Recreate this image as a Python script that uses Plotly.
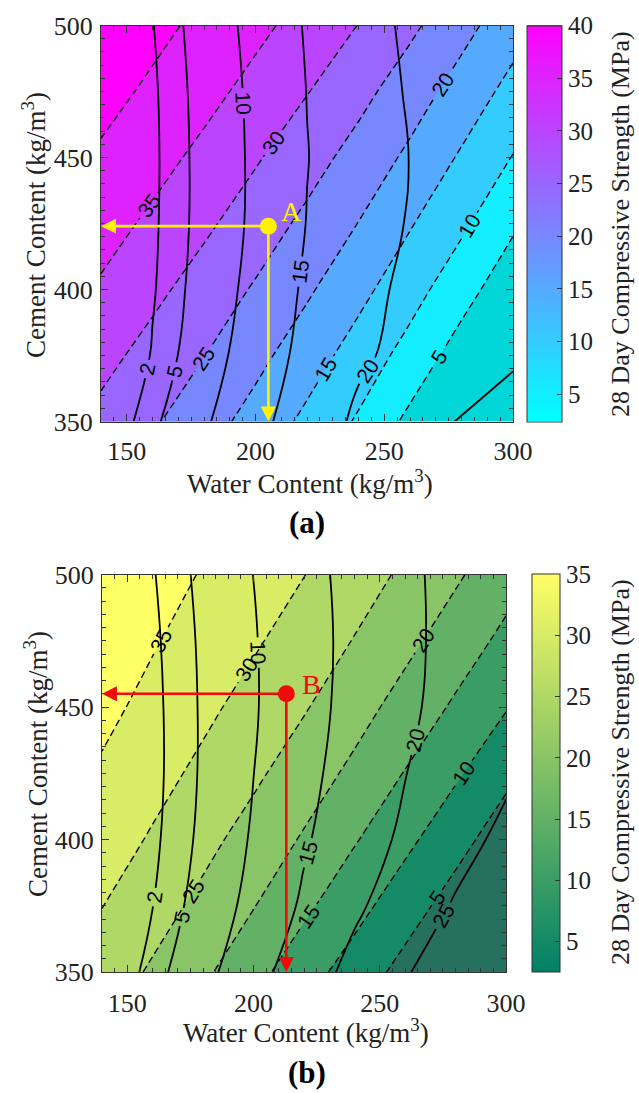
import plotly.graph_objects as go

# ---------------- data ----------------
water_content = [140, 160, 180, 200, 220, 240, 260, 280, 300]      # kg/m3 (x grid)
cement_content = [350, 375, 400, 425, 450, 475, 500]               # kg/m3 (y grid)

# panel (a): 28-day strength (filled, dashed contours)
strength_a = [
    [28.7, 25.6, 22.1, 18.2, 13.9, 9.4, 3.8, 0.5, -3.0],
    [31.5, 28.3, 25.1, 21.4, 17.3, 12.9, 8.2, 2.7, -1.0],
    [34.4, 31.2, 27.9, 24.5, 20.7, 16.4, 11.9, 7.0, 1.7],
    [36.9, 34.1, 30.9, 27.5, 23.9, 19.9, 15.4, 10.9, 5.8],
    [39.3, 36.7, 33.8, 30.5, 27.0, 23.2, 19.0, 14.4, 9.8],
    [41.7, 39.1, 36.5, 33.5, 30.2, 26.5, 22.4, 18.0, 13.4],
    [44.0, 41.4, 38.8, 36.2, 33.2, 29.9, 26.0, 21.6, 17.1],
]
# panel (a): secondary quantity (solid contours)
solid_a = [
    [-1.7, 4.16, 9.41, 13.69, 17.52, 20.75, 23.05, 25.3, 27.4],
    [-3.6, 2.3, 7.81, 12.49, 16.31, 19.38, 21.21, 22.73, 24.24],
    [-4.06, 1.66, 6.92, 11.60, 15.71, 18.48, 21.0, 23.05, 24.5],
    [-4.17, 1.39, 6.47, 10.98, 15.11, 17.74, 20.31, 22.4, 24.28],
    [-4.1, 1.30, 6.46, 10.91, 14.90, 17.46, 20.07, 22.17, 24.06],
    [-4.1, 1.44, 6.66, 11.1, 15.07, 17.77, 20.39, 22.47, 24.35],
    [-3.86, 1.86, 7.11, 11.54, 15.38, 18.16, 20.76, 22.82, 24.68],
]
# panel (b)
strength_b = [
    [27.6, 24.4, 20.9, 16.6, 12.1, 7.8, 3.4, 0.5, -2.0],
    [30.1, 27.0, 23.8, 20.2, 16.0, 11.7, 7.3, 2.9, -1.5],
    [32.4, 29.5, 26.4, 23.1, 19.5, 15.4, 11.2, 6.8, 2.3],
    [34.4, 31.7, 28.9, 25.9, 22.5, 18.9, 14.8, 10.7, 6.2],
    [36.2, 33.7, 31.1, 28.3, 25.4, 21.9, 18.2, 14.3, 10.3],
    [37.9, 35.4, 33.0, 30.6, 27.8, 24.8, 21.3, 17.6, 13.8],
    [39.3, 37.0, 34.7, 32.4, 30.1, 27.2, 24.2, 20.7, 17.0],
]
solid_b = [
    [-2.0, 3.41, 8.54, 13.32, 17.62, 21.37, 24.64, 27.5, 30.0],
    [-3.1, 1.93, 6.84, 11.54, 15.65, 19.24, 22.39, 25.4, 28.0],
    [-3.52, 1.26, 5.9, 10.54, 14.52, 17.78, 20.78, 23.41, 26.05],
    [-3.57, 0.98, 5.51, 9.96, 13.79, 16.99, 19.9, 22.1, 24.3],
    [-3.4, 1.04, 5.48, 9.61, 13.31, 16.47, 19.18, 21.65, 24.0],
    [-3.16, 1.29, 5.65, 9.7, 13.21, 16.3, 18.97, 21.45, 23.8],
    [-2.71, 1.73, 6.06, 10.05, 13.46, 16.44, 19.05, 21.49, 23.85],
]

point_A = (205, 424)
point_B = (213, 455)
cbar_ticks_a = [5, 10, 15, 20, 25, 30, 35, 40]
cbar_ticks_b = [5, 10, 15, 20, 25, 30, 35]
x_ticks = [150, 200, 250, 300]
y_ticks = [350, 400, 450, 500]

# ---------------- styles ----------------
SERIF = "Liberation Serif, Times New Roman, serif"
SANS = "Liberation Sans, Arial, sans-serif"
INK = "#222222"
H = 1093.0
W = 639.0

cool = [[0, "rgb(0,255,255)"], [1, "rgb(255,0,255)"]]
summer = [[0, "rgb(0,128,102)"], [1, "rgb(255,255,102)"]]

band_cols_a = ["rgb(0,214,216)", "rgb(18,237,255)", "rgb(52,203,255)", "rgb(85,170,255)",
               "rgb(119,136,255)", "rgb(153,102,255)", "rgb(187,68,255)", "rgb(221,34,255)",
               "rgb(255,0,255)"]
band_cols_b = ["rgb(38,112,96)", "rgb(20,138,102)", "rgb(59,157,102)", "rgb(98,177,102)",
               "rgb(137,197,102)", "rgb(176,216,102)", "rgb(216,236,102)", "rgb(255,255,102)"]


def steps(cols):
    n = len(cols) - 1
    return [[i / n, c] for i, c in enumerate(cols)]


label_font = dict(family=SANS, size=21, color="black")

fig = go.Figure()


def add_panel(xa, ya, zs, zl, cmap, zmin, zmax, bands, end_level, cb):
    fig.add_trace(go.Heatmap(x=water_content, y=cement_content, z=zs, colorscale=cmap,
                             zmin=zmin, zmax=zmax, showscale=True, colorbar=cb,
                             xaxis=xa, yaxis=ya, hoverinfo="skip"))
    fig.add_trace(go.Contour(x=water_content, y=cement_content, z=zs, autocontour=False,
                             contours=dict(start=5, end=end_level, size=5, coloring="fill",
                                           showlabels=True, labelfont=label_font),
                             colorscale=steps(bands), showscale=False,
                             line=dict(color="black", width=1.4, dash="7px,4px", smoothing=0.6),
                             xaxis=xa, yaxis=ya, hoverinfo="skip"))
    for lo, hi, sz in [(5, 25, 5), (2, 2, 1)]:
        fig.add_trace(go.Contour(x=water_content, y=cement_content, z=zl, autocontour=False,
                                 contours=dict(start=lo, end=hi, size=sz, coloring="none",
                                               showlabels=True, labelfont=label_font),
                                 showscale=False,
                                 line=dict(color="black", width=1.8, smoothing=1.3),
                                 xaxis=xa, yaxis=ya, hoverinfo="skip"))


def colorbar(x, top, bottom, thick, ticks):
    return dict(x=x / W, xanchor="left", y=1 - (top + bottom) / 2 / H, yanchor="middle",
                len=(bottom - top) / H, lenmode="fraction",
                thickness=thick, thicknessmode="pixels", xpad=0, ypad=0,
                outlinewidth=1, outlinecolor="#333333",
                ticks="inside", ticklen=5, tickcolor="#333333", tickvals=ticks,
                tickfont=dict(family=SERIF, size=25, color=INK))


add_panel("x", "y", strength_a, solid_a, cool, 2.4, 40, band_cols_a, 40,
          colorbar(527, 25.5, 421.5, 35, cbar_ticks_a))
add_panel("x2", "y2", strength_b, solid_b, summer, 2.5, 35, band_cols_b, 35,
          colorbar(532, 574.5, 972, 28, cbar_ticks_b))

yel = "rgb(255,242,0)"
red = "rgb(240,10,10)"

# points
fig.add_trace(go.Scatter(x=[point_A[0]], y=[point_A[1]], mode="markers",
                         marker=dict(size=17, color=yel),
                         xaxis="x", yaxis="y", showlegend=False, hoverinfo="skip"))
fig.add_trace(go.Scatter(x=[point_B[0]], y=[point_B[1]], mode="markers",
                         marker=dict(size=17, color=red),
                         xaxis="x2", yaxis="y2", showlegend=False, hoverinfo="skip"))


def axis_style(domain, anchor, rng, ticks, standoff):
    return dict(domain=domain, anchor=anchor, range=rng, tickvals=ticks,
                showline=True, linecolor="#333333", linewidth=1.2, mirror="allticks",
                ticks="inside", ticklen=7, tickwidth=1, tickcolor="#333333",
                minor=dict(dtick=5, ticks="inside", ticklen=4, tickcolor="#333333", tickwidth=1),
                showgrid=False, zeroline=False, automargin=False, ticklabelstandoff=standoff,
                tickfont=dict(family=SERIF, size=26, color=INK))


xr = [water_content[0], water_content[-1]]
yr = [cement_content[0], cement_content[-1]]
fig.update_layout(
    width=639, height=1093, margin=dict(l=0, r=0, t=0, b=0),
    paper_bgcolor="white", plot_bgcolor="white", showlegend=False, hovermode=False,
    xaxis=axis_style([101 / W, 513 / W], "y", xr, x_ticks, 6),
    yaxis=axis_style([1 - 421.5 / H, 1 - 25.5 / H], "x", yr, y_ticks, 2),
    xaxis2=axis_style([102 / W, 506 / W], "y2", xr, x_ticks, 8),
    yaxis2=axis_style([1 - 972 / H, 1 - 574.5 / H], "x2", yr, y_ticks, 2),
)

anns = []


def arrow(pt, tip, color, xr_, yr_):
    return dict(x=tip[0], y=tip[1], ax=pt[0], ay=pt[1], xref=xr_, yref=yr_, axref=xr_, ayref=yr_,
                text="", showarrow=True, arrowhead=2, arrowsize=1.15, arrowwidth=2.6,
                arrowcolor=color, standoff=0, startstandoff=0)


anns += [arrow(point_A, (xr[0], point_A[1]), yel, "x", "y"),
         arrow(point_A, (point_A[0], yr[0]), yel, "x", "y"),
         arrow(point_B, (xr[0], point_B[1]), red, "x2", "y2"),
         arrow(point_B, (point_B[0], yr[0]), red, "x2", "y2")]
anns += [dict(x=point_A[0], y=point_A[1], xref="x", yref="y", text="A", showarrow=False,
              xshift=23, yshift=15, font=dict(family=SERIF, size=28, color=yel)),
         dict(x=point_B[0], y=point_B[1], xref="x2", yref="y2", text="B", showarrow=False,
              xshift=25, yshift=9, font=dict(family=SERIF, size=28, color=red))]

title_font = dict(family=SERIF, size=27, color=INK)
cb_font = dict(family=SERIF, size=26, color=INK)


def txt(x, y, text, font, angle=0):
    return dict(x=x / W, y=1 - y / H, xref="paper", yref="paper", showarrow=False, text=text,
                font=font, textangle=angle, xanchor="center", yanchor="middle")


anns += [
    txt(310, 482, "Water Content (kg/m<sup>3</sup>)", title_font),
    txt(306, 1031, "Water Content (kg/m<sup>3</sup>)", title_font),
    txt(34, 225, "Cement Content (kg/m<sup>3</sup>)", title_font, -90),
    txt(36, 764, "Cement Content (kg/m<sup>3</sup>)", title_font, -90),
    txt(620, 224, "28 Day Compressive Strength (MPa)", cb_font, -90),
    txt(620, 772, "28 Day Compressive Strength (MPa)", cb_font, -90),
    txt(307, 522, "<b>(a)</b>", dict(family=SERIF, size=31, color="black")),
    txt(307, 1072, "<b>(b)</b>", dict(family=SERIF, size=31, color="black")),
]
fig.update_layout(annotations=anns)

fig.write_html("out.html")
